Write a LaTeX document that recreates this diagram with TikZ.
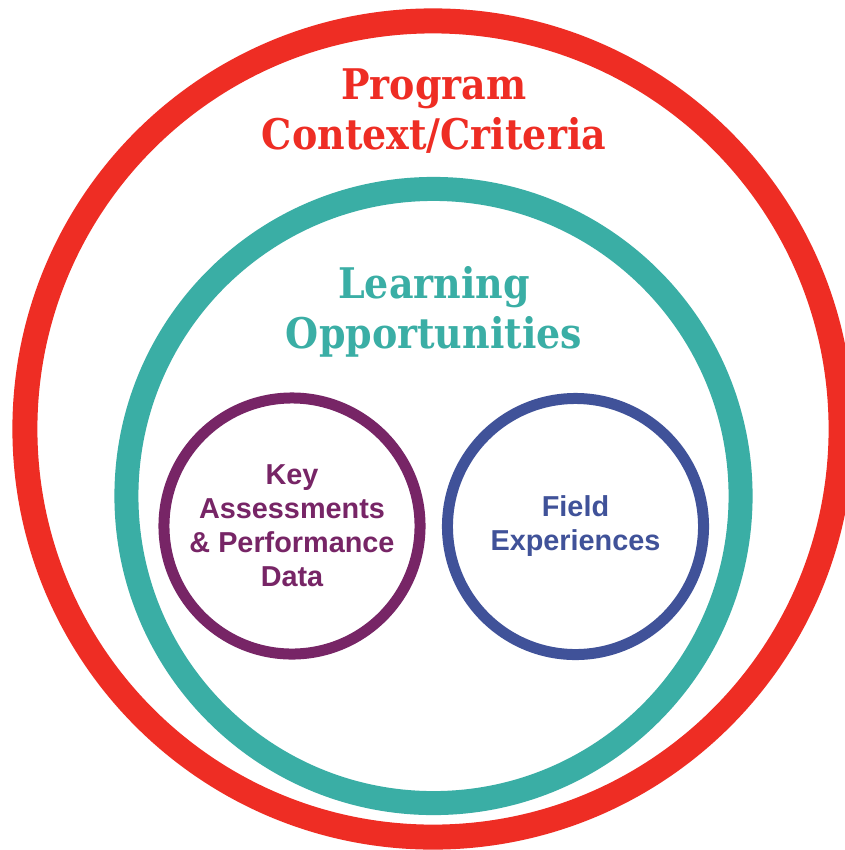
\documentclass[tikz,border=0pt]{standalone}
\usepackage{fontspec}
\setmainfont{DejaVu Serif Condensed}
\newfontfamily\ringfont{Liberation Sans}
\usetikzlibrary{positioning}
\definecolor{ctxred}{RGB}{238,45,36}
\definecolor{learnteal}{RGB}{58,174,165}
\definecolor{keypurple}{RGB}{119,37,102}
\definecolor{fieldblue}{RGB}{64,82,153}
\tikzset{
    ring/.style={
        circle, draw, fill=none, inner sep=0pt, anchor=center
    },
    bigtitle/.style={
        align=center, font=\bfseries\fontsize{30}{35.6}\selectfont
    },
    smalltitle/.style={
        align=center, font=\ringfont\bfseries\fontsize{20.5}{24.2}\selectfont
    }
}

\begin{document}
\begin{tikzpicture}[x=0.025cm, y=-0.025cm]
    % --- KHUNG ---
    \clip (0,0) rectangle (845,850);
    \fill[white] (0,0) rectangle (845,850);

    % --- VONG NGOAI ---
    \node[ring, draw=ctxred, line width=0.625cm, minimum size=20.4cm] (context) at (433,429) {};
    \node[bigtitle, text=ctxred] (contextlabel) at (434,111) {Program\\Context/Criteria};

    % --- VONG GIUA ---
    \node[ring, draw=learnteal, line width=0.6cm, minimum size=15.35cm] (learning) at (433.5,496) {};
    \node[bigtitle, text=learnteal] (learninglabel) at (434,312) {Learning\\Opportunities};

    % --- HAI VONG TRONG ---
    \node[ring, draw=keypurple, line width=0.275cm, minimum size=6.4cm, text=keypurple, smalltitle] (keydata) at (292,526) {Key\\Assessments\\\&~Performance\\Data};
    \node[ring, draw=fieldblue, line width=0.275cm, minimum size=6.4cm, text=fieldblue, smalltitle] (field) at (575.5,526.5) {Field\\Experiences};
\end{tikzpicture}
\end{document}
